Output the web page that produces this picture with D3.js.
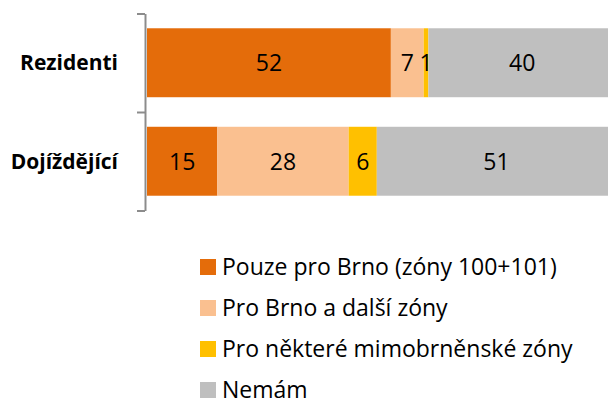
<!DOCTYPE html>
<html>
<head>
<meta charset="utf-8">
<script src="https://cdn.jsdelivr.net/npm/d3@7"></script>
<style>
  html, body { margin: 0; padding: 0; background: #fff; }
  svg { display: block; }
  text { font-family: "Open Sans", "Liberation Sans", sans-serif; fill: #000; }
</style>
</head>
<body>
<svg id="chart" width="608" height="398"></svg>
<script>
// Jízdenky podle zón (v %)
const categories = ["Rezidenti", "Dojíždějící"];
const seriesNames = [
  "Pouze pro Brno (zóny 100+101)",
  "Pro Brno a další zóny",
  "Pro některé mimobrněnské zóny",
  "Nemám"
];
const seriesColors = ["#E46C0A", "#FAC090", "#FFC000", "#BFBFBF"];
const pouzeBrno   = [52, 15];
const brnoADalsi  = [7, 28];
const mimobrnenske = [1, 6];
const nemam       = [40, 51];

const seriesValues = [pouzeBrno, brnoADalsi, mimobrnenske, nemam];

const rows = categories.map((c, i) => {
  const r = { category: c };
  seriesNames.forEach((s, k) => { r[s] = seriesValues[k][i]; });
  return r;
});

const stacked = d3.stack().keys(seriesNames)(rows);

const svg = d3.select("#chart");

const x = d3.scaleLinear().domain([0, 100]).range([147, 616]);
const y = d3.scaleBand().domain(categories).range([13.5, 210.5])
  .paddingInner(0.3).paddingOuter(0.15);
const color = d3.scaleOrdinal().domain(seriesNames).range(seriesColors);

// stacked bars
const layers = svg.append("g").selectAll("g")
  .data(stacked).join("g")
  .attr("fill", d => color(d.key));

layers.selectAll("rect")
  .data(d => d.map(p => ({ key: d.key, p })))
  .join("rect")
  .attr("x", d => x(d.p[0]))
  .attr("y", d => y(d.p.data.category))
  .attr("width", d => x(d.p[1]) - x(d.p[0]))
  .attr("height", y.bandwidth());

// value labels
layers.selectAll("text")
  .data(d => d.map(p => ({ key: d.key, p })))
  .join("text")
  .attr("x", d => (x(d.p[0]) + x(d.p[1])) / 2)
  .attr("y", d => y(d.p.data.category) + y.bandwidth() / 2)
  .attr("dy", "0.36em")
  .attr("text-anchor", "middle")
  .style("font-size", "23px")
  .text(d => d.p[1] - d.p[0]);

// category axis: line with ticks between categories
const yEdge = d3.scaleLinear().domain([0, categories.length]).range(y.range());
const axis = svg.append("g")
  .attr("transform", "translate(145,0)")
  .call(d3.axisLeft(yEdge).tickValues(d3.range(categories.length + 1))
    .tickFormat("").tickSize(8).tickSizeOuter(0));
axis.select(".domain").attr("stroke", "#8C8C8C").attr("stroke-width", 2);
axis.selectAll(".tick line").attr("stroke", "#8C8C8C").attr("stroke-width", 2);

// category labels
svg.append("g").selectAll("text")
  .data(categories).join("text")
  .attr("x", 118)
  .attr("y", d => y(d) + y.bandwidth() / 2)
  .attr("dy", "0.36em")
  .attr("text-anchor", "end")
  .style("font-size", "21px")
  .style("font-weight", "bold")
  .text(d => d);

// legend
const legend = svg.append("g").attr("transform", "translate(200,259)");
const item = legend.selectAll("g")
  .data(seriesNames).join("g")
  .attr("transform", (d, i) => `translate(0,${i * 41})`);
item.append("rect")
  .attr("width", 16).attr("height", 16)
  .attr("fill", d => color(d));
item.append("text")
  .attr("x", 22)
  .attr("y", 8)
  .attr("dy", "0.36em")
  .style("font-size", "23px")
  .text(d => d);
</script>
</body>
</html>
